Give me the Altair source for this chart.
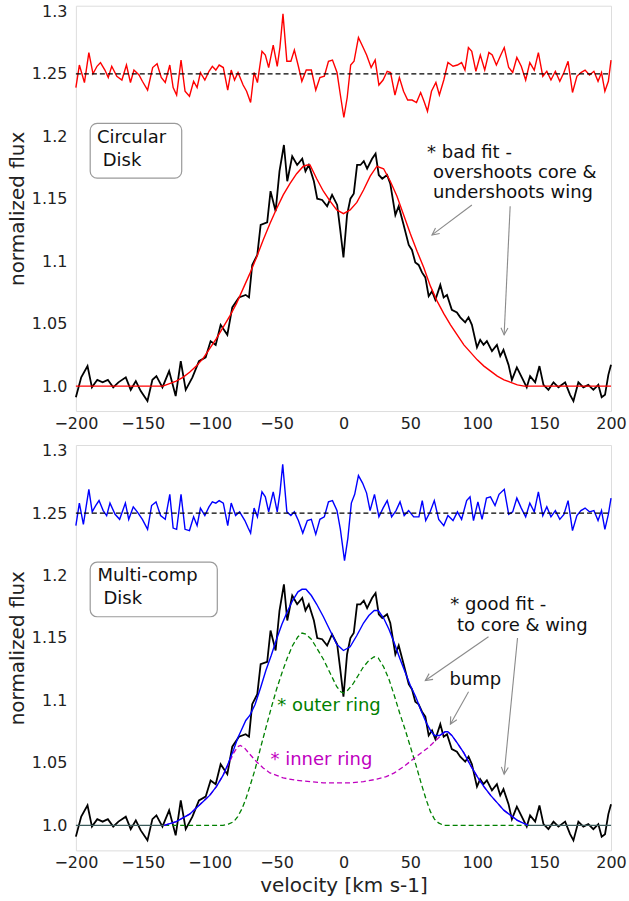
import math
import altair as alt
import pandas as pd

# ---------------- layout constants ----------------
W = 536
H = 406
X_DOM = [-200, 200]
Y_DOM = [0.98, 1.3045]
FONT = "DejaVu Sans"

# ---------------- data ----------------
x_ticks = [-200, -150, -100, -50, 0, 50, 100, 150, 200]
y_ticks = [1.0, 1.05, 1.1, 1.15, 1.2, 1.25, 1.3]
ref_level = 1.25

# observed spectrum (same in both panels)
obs_vel = [-200, -196, -191.3, -188, -184, -180, -176.1, -172.1, -168.2, -162.7,
           -159, -155.2, -151.5, -146.5, -142.8, -139.8, -135.3, -130.3, -125.4, -121.6,
           -117.9, -112.9, -108, -103, -99.3, -95.5, -91.8, -86.8, -83.1, -78.1,
           -73.1, -70.6, -68.2, -64.4, -61.9, -57, -54.5, -50.7, -47.8, -44.5,
           -42, -38.3, -34.6, -30.8, -28.4, -25.9, -22.1, -19.6, -15.9, -12.2,
           -8.5, -4.7, -2.4, 0, 2.7, 5.2, 7.7, 10.2, 12.7, 15.2,
           17.7, 21.4, 24, 26.4, 29, 32.6, 35, 38.8, 41.3, 45,
           48.8, 51.2, 53.7, 56.2, 58.7, 61.2, 63.7, 66.2, 68.7, 72.4,
           74.9, 77.4, 81, 84.8, 87.3, 91, 93.5, 96, 99.8, 102.2,
           104.7, 107.2, 111, 114.7, 117.2, 119.6, 123.4, 125.9, 129.6, 133.3,
           137, 139.5, 143.3, 146.5, 149.5, 153.2, 157, 160.7, 165.7, 169.4,
           171.9, 175.6, 179.3, 183, 186.8, 190.5, 193, 195.5, 198, 200]
obs_flux = [0.991, 1.007, 1.016, 0.999, 1.005, 1.003, 1.005, 0.999, 1.003, 1.007,
            0.997, 1.004, 0.996, 0.988, 1.005, 1.008, 0.999, 1.012, 0.992, 1.020,
            0.997, 1.007, 1.020, 1.023, 1.036, 1.033, 1.049, 1.041, 1.063, 1.071,
            1.073, 1.071, 1.097, 1.105, 1.129, 1.131, 1.156, 1.140, 1.172, 1.193,
            1.164, 1.184, 1.177, 1.182, 1.172, 1.177, 1.164, 1.150, 1.149, 1.144,
            1.153, 1.145, 1.125, 1.103, 1.137, 1.150, 1.154, 1.177, 1.177, 1.180,
            1.174, 1.182, 1.186, 1.169, 1.166, 1.169, 1.162, 1.137, 1.144, 1.129,
            1.113, 1.109, 1.099, 1.097, 1.091, 1.087, 1.072, 1.076, 1.069, 1.081,
            1.071, 1.073, 1.061, 1.059, 1.055, 1.051, 1.055, 1.049, 1.031, 1.037,
            1.033, 1.036, 1.028, 1.033, 1.024, 1.029, 1.017, 1.005, 1.015, 1.007,
            0.999, 1.008, 1.003, 1.016, 1.001, 0.997, 1.003, 0.999, 1.003, 0.993,
            0.988, 1.003, 0.999, 1.001, 0.997, 1.001, 0.991, 0.993, 1.009, 1.017]

# circular-disk fit (red)
circ_vel = [-200, -140, -135, -130, -125, -120, -115, -110, -105, -100,
            -95, -90, -85, -80, -75, -70, -65, -60, -55, -50,
            -45, -40, -35, -30, -27, -25, -20, -15, -10, -5,
            0, 5, 10, 15, 20, 25, 30, 35, 40, 45,
            50, 55, 60, 65, 70, 75, 80, 85, 90, 95,
            100, 105, 110, 115, 120, 125, 130, 135, 200]
circ_fit = [1.000, 1.000, 1.000, 1.002, 1.004, 1.007, 1.011, 1.016, 1.022, 1.030,
            1.038, 1.047, 1.056, 1.066, 1.078, 1.090, 1.103, 1.117, 1.130, 1.142,
            1.153, 1.162, 1.170, 1.176, 1.177, 1.177, 1.166, 1.156, 1.148, 1.141,
            1.138, 1.141, 1.147, 1.157, 1.168, 1.176, 1.174, 1.164, 1.152, 1.137,
            1.122, 1.108, 1.095, 1.080, 1.068, 1.058, 1.049, 1.041, 1.033, 1.027,
            1.021, 1.016, 1.012, 1.008, 1.005, 1.003, 1.001, 1.000, 1.000]

# residuals of circular fit (offset to 1.25)
res_circ_vel = [-200, -197.4, -193.6, -190.3, -187.2, -184.2, -181.6, -178.3, -175.8, -173.2,
                -169.4, -165.6, -162.2, -159.2, -156.6, -152.8, -150.3, -146.4, -142.6, -139.3,
                -136.2, -133.2, -129.8, -127.3, -124.7, -121.4, -118.4, -115.1, -112.0, -109.4,
                -106.9, -103.6, -100.5, -98.0, -95.4, -92.9, -89.8, -86.5, -83.9, -81.4,
                -78.8, -75.0, -72.4, -69.4, -66.8, -64.3, -60.9, -58.4, -55.9, -52.5,
                -49.5, -47.5, -45.2, -42.3, -39.3, -36.7, -33.7, -31.1, -27.8, -24.0,
                -20.7, -17.6, -14.3, -11.2, -8.2, -4.8, -2.3, 0.3, 2.8, 5.4,
                7.9, 11.2, 14.3, 17.3, 20.7, 23.7, 26.5, 29.6, 32.7, 35.2,
                38.5, 41.8, 44.9, 48.0, 51.3, 54.6, 57.7, 60.2, 62.8, 65.8,
                69.1, 71.7, 75.0, 78.1, 81.9, 85.2, 88.3, 90.8, 93.4, 95.9,
                99.0, 102.3, 105.6, 108.7, 111.2, 114.3, 117.6, 120.2, 123.5, 126.5,
                129.6, 132.9, 136.2, 139.3, 142.6, 145.7, 149.0, 152.0, 155.1, 158.4,
                161.7, 164.8, 167.9, 171.2, 174.5, 177.5, 180.6, 183.9, 187.2, 190.3,
                192.9, 195.4, 198.0, 200]
res_circ = [1.239, 1.257, 1.243, 1.267, 1.250, 1.256, 1.259, 1.253, 1.247, 1.256,
            1.248, 1.245, 1.257, 1.243, 1.253, 1.249, 1.244, 1.237, 1.255, 1.258,
            1.247, 1.243, 1.257, 1.239, 1.233, 1.261, 1.236, 1.232, 1.244, 1.239,
            1.251, 1.245, 1.252, 1.256, 1.253, 1.257, 1.255, 1.237, 1.253, 1.245,
            1.251, 1.241, 1.236, 1.227, 1.251, 1.243, 1.268, 1.265, 1.255, 1.273,
            1.256, 1.271, 1.298, 1.260, 1.260, 1.269, 1.256, 1.244, 1.253, 1.253,
            1.237, 1.247, 1.248, 1.260, 1.261, 1.251, 1.233, 1.215, 1.231, 1.257,
            1.260, 1.279, 1.272, 1.265, 1.255, 1.261, 1.241, 1.245, 1.252, 1.251,
            1.233, 1.247, 1.236, 1.229, 1.229, 1.227, 1.235, 1.228, 1.220, 1.236,
            1.243, 1.233, 1.245, 1.259, 1.256, 1.257, 1.259, 1.253, 1.271, 1.268,
            1.252, 1.265, 1.253, 1.267, 1.265, 1.257, 1.265, 1.271, 1.255, 1.251,
            1.263, 1.256, 1.245, 1.259, 1.253, 1.267, 1.248, 1.252, 1.245, 1.252,
            1.244, 1.251, 1.260, 1.235, 1.248, 1.251, 1.253, 1.249, 1.252, 1.244,
            1.251, 1.236, 1.244, 1.261]

# multi-component fit (blue) and its two components
multi_vel = [-134, -125, -120, -115, -110, -105, -100, -95, -90, -86,
             -82, -79, -76, -73, -70, -66, -62, -58, -54, -50,
             -46, -42, -38, -34, -31, -28, -24, -20, -15, -10,
             -5, 0, 5, 10, 15, 19, 23, 26, 30, 34,
             38, 42, 46, 50, 54, 58, 62, 65, 68, 72,
             76, 78, 81, 85, 90, 95, 100, 105, 110, 115,
             120, 125, 130, 134, 138]
multi_fit = [1.000, 1.003, 1.006, 1.009, 1.014, 1.019, 1.024, 1.031, 1.040, 1.050,
             1.061, 1.070, 1.077, 1.084, 1.088, 1.097, 1.110, 1.124, 1.136, 1.149,
             1.161, 1.171, 1.180, 1.187, 1.189, 1.189, 1.184, 1.177, 1.167, 1.156,
             1.145, 1.140, 1.143, 1.152, 1.162, 1.168, 1.172, 1.172, 1.166, 1.157,
             1.146, 1.134, 1.123, 1.112, 1.103, 1.092, 1.082, 1.076, 1.072, 1.072,
             1.075, 1.075, 1.072, 1.066, 1.058, 1.048, 1.039, 1.031, 1.024, 1.018,
             1.012, 1.008, 1.004, 1.002, 1.000]

outer_vel = [-134, -90, -86, -82, -79, -76, -73, -70, -66, -62,
             -58, -54, -50, -46, -42, -38, -34, -31, -28, -24,
             -20, -15, -10, -5, -2, 0, 3, 7, 11, 15,
             19, 23, 26, 30, 34, 38, 42, 46, 50, 54,
             58, 62, 65, 68, 71, 75, 139]
outer_ring = [1.000, 1.000, 1.001, 1.003, 1.007, 1.013, 1.021, 1.031, 1.045, 1.062,
              1.078, 1.094, 1.109, 1.122, 1.134, 1.144, 1.151, 1.154, 1.153, 1.149,
              1.142, 1.133, 1.122, 1.111, 1.107, 1.106, 1.108, 1.113, 1.120, 1.127,
              1.132, 1.135, 1.134, 1.127, 1.117, 1.104, 1.090, 1.077, 1.063, 1.049,
              1.034, 1.020, 1.011, 1.005, 1.002, 1.000, 1.000]

inner_vel = [-134, -125, -120, -115, -110, -105, -100, -95, -90, -86,
             -82, -79, -77, -74, -70, -65, -60, -55, -50, -45,
             -35, -25, -15, -5, 5, 15, 25, 32, 38, 45,
             52, 58, 63, 68, 72, 76, 78, 81, 85, 90,
             95, 100, 105, 110, 115, 120, 125, 130, 134, 138]
inner_ring = [1.000, 1.003, 1.006, 1.009, 1.014, 1.019, 1.024, 1.031, 1.040, 1.049,
              1.058, 1.063, 1.064, 1.062, 1.057, 1.051, 1.046, 1.042, 1.040, 1.038,
              1.036, 1.035, 1.034, 1.034, 1.034, 1.035, 1.037, 1.039, 1.042, 1.047,
              1.053, 1.058, 1.062, 1.067, 1.071, 1.075, 1.075, 1.072, 1.066, 1.058,
              1.048, 1.039, 1.031, 1.024, 1.018, 1.012, 1.008, 1.004, 1.002, 1.000]

# continuum segments outside the fitted components
cont_vel = [-200, -134, 138, 200]
cont_flux = [1.0, 1.0, 1.0, 1.0]
cont_seg = ["left", "left", "right", "right"]

# residuals of multi-component fit
res_multi_vel = [-200, -197.4, -194.4, -190.3, -187.8, -185.2, -182.7, -179.6, -177.0, -174.5,
                 -170.7, -167.3, -163.0, -160.5, -157.1, -154.1, -150.3, -146.4, -143.4, -140.1,
                 -136.7, -133.2, -129.8, -127.3, -124.7, -121.4, -118.4, -115.1, -112.0, -109.4,
                 -106.9, -103.6, -100.5, -98.0, -95.4, -92.9, -89.8, -86.5, -83.9, -80.6,
                 -77.6, -73.7, -71.2, -69.4, -66.8, -64.3, -60.9, -58.4, -55.9, -52.5,
                 -49.5, -47.5, -45.4, -42.3, -39.3, -36.7, -33.7, -30.4, -27.0, -24.0,
                 -20.7, -17.6, -14.3, -11.2, -8.2, -4.8, -2.3, 0.8, 3.3, 5.9,
                 8.4, 11.2, 14.3, 17.3, 19.9, 23.2, 26.5, 29.6, 32.7, 36.0,
                 39.3, 42.3, 45.4, 48.7, 52.5, 56.4, 58.9, 61.5, 64.8, 67.9,
                 71.2, 75.0, 78.1, 81.9, 85.2, 88.3, 92.1, 94.6, 97.2, 100.5,
                 103.6, 106.9, 109.9, 113.3, 116.3, 120.2, 123.5, 126.5, 129.6, 132.9,
                 136.2, 139.3, 142.6, 145.7, 149.0, 152.0, 155.1, 158.4, 161.7, 164.8,
                 167.9, 171.2, 174.5, 177.5, 180.6, 183.9, 187.2, 190.3, 192.9, 195.4,
                 198.0, 200]
res_multi = [1.240, 1.258, 1.241, 1.269, 1.251, 1.256, 1.260, 1.252, 1.248, 1.258,
             1.249, 1.245, 1.258, 1.245, 1.255, 1.251, 1.245, 1.237, 1.256, 1.259,
             1.248, 1.245, 1.265, 1.238, 1.237, 1.265, 1.237, 1.236, 1.247, 1.240,
             1.254, 1.248, 1.255, 1.259, 1.258, 1.260, 1.258, 1.240, 1.258, 1.248,
             1.251, 1.244, 1.238, 1.234, 1.254, 1.247, 1.267, 1.263, 1.251, 1.267,
             1.251, 1.266, 1.289, 1.251, 1.248, 1.251, 1.244, 1.234, 1.244, 1.245,
             1.233, 1.245, 1.247, 1.259, 1.260, 1.252, 1.237, 1.212, 1.230, 1.258,
             1.265, 1.280, 1.274, 1.266, 1.252, 1.265, 1.247, 1.254, 1.260, 1.247,
             1.252, 1.259, 1.248, 1.252, 1.247, 1.247, 1.260, 1.244, 1.251, 1.260,
             1.245, 1.240, 1.248, 1.244, 1.251, 1.245, 1.260, 1.263, 1.244, 1.259,
             1.245, 1.262, 1.263, 1.256, 1.265, 1.269, 1.249, 1.251, 1.262, 1.254,
             1.247, 1.258, 1.251, 1.267, 1.248, 1.255, 1.247, 1.252, 1.245, 1.249,
             1.260, 1.236, 1.248, 1.252, 1.254, 1.251, 1.252, 1.244, 1.252, 1.237,
             1.249, 1.262]

# annotation texts: (text, velocity, flux, colour)
top_texts = [("Circular", -184.3, 1.1983, "#111111"),
             ("Disk", -179.9, 1.1803, "#111111"),
             ("* bad fit -", 62.5, 1.1863, "#111111"),
             ("overshoots core &", 66.9, 1.1704, "#111111"),
             ("undershoots wing", 66.9, 1.1544, "#111111")]
bottom_texts = [("Multi-comp", -183.8, 1.1995, "#111111"),
                ("Disk", -179.4, 1.1814, "#111111"),
                ("* good fit -", 79.9, 1.1768, "#111111"),
                ("to core & wing", 84.9, 1.1595, "#111111"),
                ("bump", 79.3, 1.1167, "#111111"),
                ("* outer ring", -49.5, 1.0954, "#008000"),
                ("* inner ring", -54.5, 1.0526, "#bf00bf")]
# label boxes: v1, v2, f1, f2
top_box = [(-189.3, -120.9, 1.1664, 1.2103)]
bottom_box = [(-189.3, -94.3, 1.1670, 1.2107)]
# arrows: start v, start f, end v, end f
top_arrows = [(96.0, 1.145, 66.2, 1.121),
              (124.6, 1.144, 120.1, 1.041)]
bottom_arrows = [(108.4, 1.151, 61.2, 1.116),
                 (130.1, 1.150, 120.1, 1.041),
                 (93.5, 1.107, 79.9, 1.081)]

# ---------------- chart building ----------------
ARROW_PATH = "M -0.5 1 L 0 0 L 0.5 1"


def df_line(vs, fs):
    return pd.DataFrame({"v": vs, "f": fs})


def make_panel(res_v, res_f, res_color, fits, texts, boxes, arrows, bottom):
    xs = alt.Scale(domain=X_DOM, nice=False, zero=False)
    ys = alt.Scale(domain=Y_DOM, nice=False, zero=False)
    xaxis = alt.Axis(values=x_ticks, grid=False, ticks=False, domain=False,
                     labelFontSize=16, labelPadding=4, labelColor="#222222",
                     labelFont=FONT, titleFont=FONT, titleFontSize=20,
                     titleFontWeight="normal", titleColor="#222222", titlePadding=5,
                     labelFlush=False)
    yaxis = alt.Axis(values=y_ticks, grid=False, ticks=False, domain=False,
                     labelFontSize=16, labelPadding=9, labelColor="#222222",
                     labelFont=FONT, titleFont=FONT, titleFontSize=20,
                     titleFontWeight="normal", titleColor="#222222", titlePadding=4,
                     labelExpr="datum.value == 1 ? '1.0' : format(datum.value, '~g')")
    xtitle = "velocity [km s-1]" if bottom else None

    def enc_x(field="v"):
        return alt.X(f"{field}:Q", scale=xs, axis=xaxis, title=xtitle)

    def enc_y(field="f"):
        return alt.Y(f"{field}:Q", scale=ys, axis=yaxis, title="normalized flux")

    layers = []
    # observed spectrum
    layers.append(alt.Chart(df_line(obs_vel, obs_flux)).mark_line(
        color="black", strokeWidth=1.8).encode(x=enc_x(), y=enc_y(), order="v:Q"))
    for item in fits:
        layers.append(item(enc_x, enc_y))
    # residuals + reference line
    layers.append(alt.Chart(df_line(res_v, res_f)).mark_line(
        color=res_color, strokeWidth=1.4).encode(x=enc_x(), y=enc_y()))
    layers.append(alt.Chart(df_line(X_DOM, [ref_level, ref_level])).mark_line(
        color="black", strokeWidth=1.2, strokeDash=[5, 3]).encode(x=enc_x(), y=enc_y()))
    # boxes
    bdf = pd.DataFrame(boxes, columns=["v", "v2", "f", "f2"])
    layers.append(alt.Chart(bdf).mark_rect(
        fill="white", stroke="#9a9a9a", strokeWidth=1.2, cornerRadius=7).encode(
        x=enc_x(), x2="v2:Q", y=enc_y(), y2="f2:Q"))
    # texts
    tdf = pd.DataFrame(texts, columns=["t", "v", "f", "c"])
    layers.append(alt.Chart(tdf).mark_text(
        align="left", baseline="middle", fontSize=18, font=FONT).encode(
        x=enc_x(), y=enc_y(), text="t:N", color=alt.Color("c:N", scale=None)))
    # arrows
    ky = H / (Y_DOM[1] - Y_DOM[0])
    kx = W / (X_DOM[1] - X_DOM[0])
    rows = []
    for (v1, f1, v2, f2) in arrows:
        dx = (v2 - v1) * kx
        dy = -(f2 - f1) * ky
        ang = math.degrees(math.atan2(dx, -dy)) % 360
        rows.append({"v": v1, "f": f1, "ve": v2, "fe": f2, "ang": ang})
    adf = pd.DataFrame(rows)
    layers.append(alt.Chart(adf).mark_rule(color="#8a8a8a", strokeWidth=1.1).encode(
        x=enc_x(), y=enc_y(), x2="ve:Q", y2="fe:Q"))
    layers.append(alt.Chart(adf).mark_point(
        shape=ARROW_PATH, filled=False, stroke="#8a8a8a", strokeWidth=1.1,
        size=196, opacity=1).encode(
        x=alt.X("ve:Q", scale=xs, axis=xaxis, title=xtitle),
        y=alt.Y("fe:Q", scale=ys, axis=yaxis, title="normalized flux"),
        angle=alt.Angle("ang:Q", scale=None)))
    return alt.layer(*layers).properties(width=W, height=H)


def red_fit(enc_x, enc_y):
    return alt.Chart(df_line(circ_vel, circ_fit)).mark_line(
        color="#ff0000", strokeWidth=1.4).encode(x=enc_x(), y=enc_y())


def cont_line(enc_x, enc_y):
    d = pd.DataFrame({"v": cont_vel, "f": cont_flux, "s": cont_seg})
    return alt.Chart(d).mark_line(color="#3b5b5b", strokeWidth=1.4).encode(
        x=enc_x(), y=enc_y(), detail="s:N")


def outer_line(enc_x, enc_y):
    return alt.Chart(df_line(outer_vel, outer_ring)).mark_line(
        color="#008000", strokeWidth=1.3, strokeDash=[5, 3]).encode(x=enc_x(), y=enc_y())


def inner_line(enc_x, enc_y):
    return alt.Chart(df_line(inner_vel, inner_ring)).mark_line(
        color="#bf00bf", strokeWidth=1.3, strokeDash=[5, 3]).encode(x=enc_x(), y=enc_y())


def blue_fit(enc_x, enc_y):
    return alt.Chart(df_line(multi_vel, multi_fit)).mark_line(
        color="#0000ff", strokeWidth=1.4).encode(x=enc_x(), y=enc_y())


top = make_panel(res_circ_vel, res_circ, "#ff0000", [red_fit],
                 top_texts, top_box, top_arrows, bottom=False)
bottom = make_panel(res_multi_vel, res_multi, "#0000ff",
                    [cont_line, outer_line, inner_line, blue_fit],
                    bottom_texts, bottom_box, bottom_arrows, bottom=True)

chart = alt.vconcat(top, bottom, spacing=34, bounds="flush").properties(
    padding={"left": 6, "top": 2, "right": 2, "bottom": 2}
).configure_view(stroke="#a8a8a8", strokeWidth=1.3).configure(background="white")

chart.save("out.html", embed_options={"renderer": "svg", "actions": False})
